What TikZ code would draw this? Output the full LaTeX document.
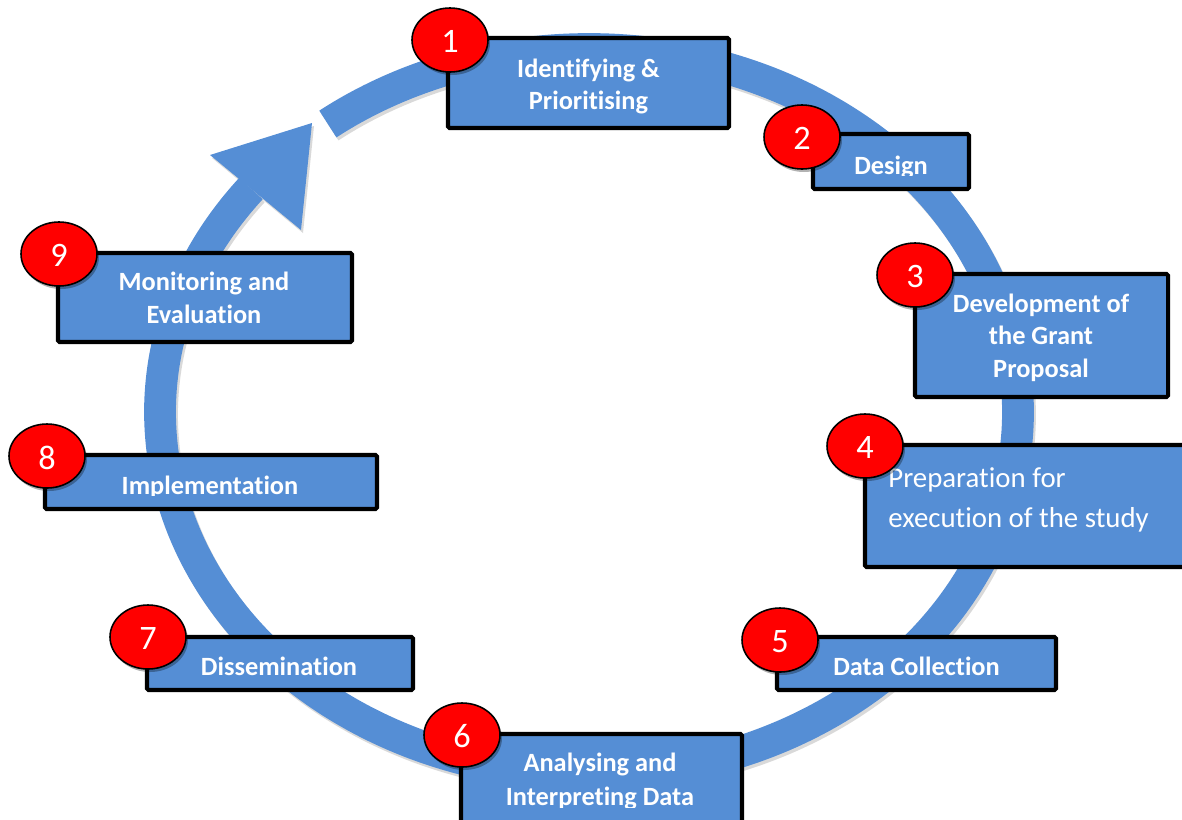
\documentclass[tikz,border=0pt]{standalone}
\usepackage{fontspec}
\setmainfont{Carlito}[RawFeature={-liga;-clig}]
\definecolor{ringblue}{RGB}{85,142,213}
\definecolor{badgered}{RGB}{255,0,0}
\begin{document}
\begin{tikzpicture}[x=0.02cm,y=-0.02cm,
  ring/.style={draw=ringblue, line width=18.1pt},
  ringshadow/.style={draw=black, opacity=0.15, line width=18.1pt},
  stepbox/.style={fill=ringblue, draw=black, line width=2.3pt, rounded corners=0.8pt},
  badge/.style={fill=badgered, draw=black, line width=0.9pt},
  badgeshadow/.style={fill=black, opacity=0.3},
  numtxt/.style={text=white, font=\fontsize{19.5}{23}\selectfont, inner sep=0pt},
  lbl/.style={text=white, font=\fontsize{15}{18}\selectfont\bfseries, inner sep=0pt, anchor=base},
  lblreg/.style={text=white, font=\fontsize{16.4}{20}\selectfont, inner sep=0pt, anchor=base west},
]
\useasboundingbox (0,0) rectangle (1182,819);
\clip (0,0) rectangle (1182,819);

% ring with shadow
\begin{scope}[shift={(2,3)}]
  \draw[ringshadow] plot[domain=-218:127.5, samples=300, smooth] ({589+429*cos(\x)},{412-363*sin(\x)});
  \fill[black, opacity=0.15] (312,123) -- (210,155) -- (301,230) -- cycle;
\end{scope}
\draw[ring] plot[domain=-218:127.5, samples=300, smooth] ({589+429*cos(\x)},{412-363*sin(\x)});
\coordinate (tip) at (312,123);
\coordinate (bl) at (210,155);
\coordinate (br) at (301,230);
\fill[ringblue] (tip) -- (bl) -- (br) -- cycle;

% boxes
\draw[stepbox] (448,38) rectangle (729,128);
\draw[stepbox] (813,134) rectangle (969,189);
\draw[stepbox] (915,274) rectangle (1168,397);
\draw[stepbox] (865,445) rectangle (1210,567);
\draw[stepbox] (777,637) rectangle (1056,690);
\draw[stepbox] (461,734) rectangle (742,845);
\draw[stepbox] (147,637) rectangle (413,690);
\draw[stepbox] (45,455) rectangle (377,509);
\draw[stepbox] (58,253) rectangle (352,342);

% texts (clipped like text boxes)
\begin{scope}
  \clip (448,40) rectangle (729,114);
  \node[lbl] (t1a) at (588.5,77) {Identifying \&};
  \node[lbl] (t1b) at (588.5,109) {Prioritising};
\end{scope}
\begin{scope}
  \clip (813,136) rectangle (969,175);
  \node[lbl] (t2) at (891,174) {Design};
\end{scope}
\begin{scope}
  \clip (915,276) rectangle (1168,383);
  \node[lbl] (t3a) at (1041,312.5) {Development of};
  \node[lbl] (t3b) at (1041,344.5) {the Grant};
  \node[lbl] (t3c) at (1041,377) {Proposal};
\end{scope}
\node[lblreg] (t4a) at (888,487) {Preparation for};
\node[lblreg] (t4b) at (888,527) {execution of the study};
\node[lbl] (t5) at (916.5,675) {Data Collection};
\begin{scope}
  \clip (461,736) rectangle (742,807);
  \node[lbl] (t6a) at (600,771.5) {Analysing and};
  \node[lbl] (t6b) at (600,805) {Interpreting Data};
\end{scope}
\node[lbl] (t7) at (279,675) {Dissemination};
\begin{scope}
  \clip (45,457) rectangle (377,495.5);
  \node[lbl] (t8) at (210,494) {Implementation};
\end{scope}
\node[lbl] (t9a) at (204,290.5) {Monitoring and};
\node[lbl] (t9b) at (204,323) {Evaluation};

% badges
\foreach \n/\cx/\cy in {1/450/40, 2/802/137, 3/915/275, 4/865/446, 5/780/640, 6/462/735, 7/148/637, 8/47/456, 9/59/254} {
  \fill[badgeshadow] (\cx+2,\cy+3) ellipse [x radius=38, y radius=32];
  \draw[badge] (\cx,\cy) ellipse [x radius=38, y radius=32];
  \node[numtxt] (n\n) at (\cx,\cy+1.5) {\n};
}
\end{tikzpicture}
\end{document}
